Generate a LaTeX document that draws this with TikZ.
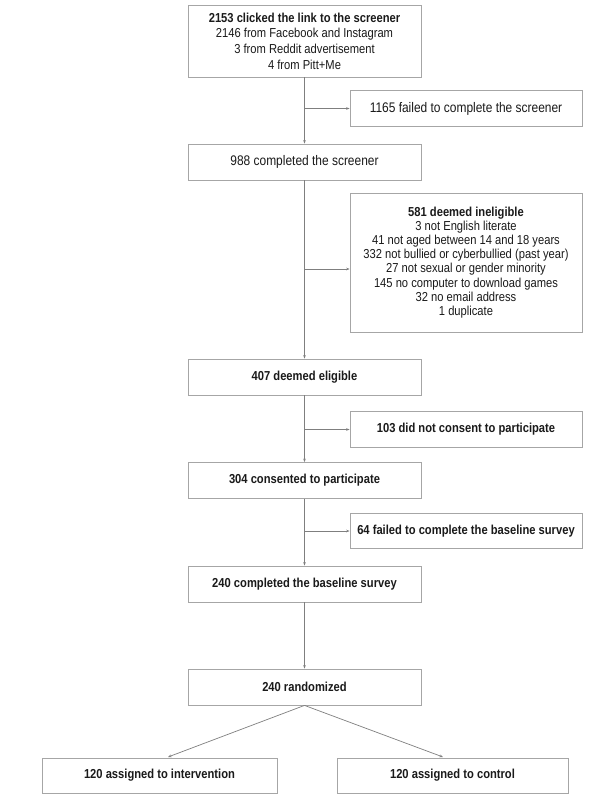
\documentclass[tikz,border=0pt]{standalone}
\usepackage{fontspec}
\setmainfont{Liberation Sans}[FakeStretch=0.86]
\usetikzlibrary{arrows.meta}
\definecolor{linegray}{HTML}{7F7F7F}
\definecolor{boxgray}{HTML}{A6A6A6}
\definecolor{txt}{HTML}{1A1A1A}
\tikzset{
  box/.style={draw=boxgray, line width=0.8pt, fill=white, inner sep=0pt, align=center,
    text=txt, font=\fontsize{13}{14.2}\selectfont},
  bigtext/.style={font=\fontsize{13.9}{15}\selectfont},
  mainbox/.style={box, minimum width=233pt, minimum height=36pt},
  sidebox/.style={box, minimum width=232pt, minimum height=35.5pt},
  botbox/.style={box, minimum width=233pt, minimum height=35pt},
  arr/.style={draw=linegray, line width=0.7pt, -{Stealth[length=3.5pt,width=2.6pt]}},
}
\begin{document}
\begin{tikzpicture}[x=1pt,y=-1pt]
\useasboundingbox[fill=white] (0,0) rectangle (614,798);
\node[mainbox, minimum height=72pt] (top) at (304.5,41) {\textbf{2153 clicked the link to the screener}\\[1.4pt]2146 from Facebook and Instagram\\[1.4pt]3 from Reddit advertisement\\[1.4pt]4 from Pitt+Me};
\node[sidebox, bigtext] (f1) at (466,108.5) {1165 failed to complete the screener};
\node[mainbox, bigtext] (scr) at (304.5,162) {988 completed the screener};
\node[sidebox, minimum height=139pt] (inel) at (466,262.5) {\textbf{581 deemed ineligible}\\3 not English literate\\41 not aged between 14 and 18 years\\332 not bullied or cyberbullied (past year)\\27 not sexual or gender minority\\145 no computer to download games\\32 no email address\\1 duplicate};
\node[mainbox] (elig) at (304.5,377) {\textbf{407 deemed eligible}};
\node[sidebox] (f2) at (466,429.5) {\textbf{103 did not consent to participate}};
\node[mainbox] (cons) at (304.5,480.5) {\textbf{304 consented to participate}};
\node[sidebox] (f3) at (466,531) {\textbf{64 failed to complete the baseline survey}};
\node[mainbox] (base) at (304.5,584) {\textbf{240 completed the baseline survey}};
\node[mainbox] (rand) at (304.5,687) {\textbf{240 randomized}};
\node[botbox, minimum width=235pt] (int) at (159.5,775.5) {\textbf{120 assigned to intervention}};
\node[botbox, minimum width=231pt] (ctl) at (452.5,775.5) {\textbf{120 assigned to control}};
\coordinate (intin) at (168,757);
\coordinate (ctlin) at (443,757);
\draw[arr] (top) -- (scr);
\draw[arr] (top.south |- f1.west) -- (f1.west);
\draw[arr] (scr) -- (elig);
\draw[arr] (scr.south |- inel.west) ++(0,6.5) coordinate (ib) -- (inel.west |- ib);
\draw[arr] (elig) -- (cons);
\draw[arr] (elig.south |- f2.west) -- (f2.west);
\draw[arr] (cons) -- (base);
\draw[arr] (cons.south |- f3.west) -- (f3.west);
\draw[arr] (base) -- (rand);
\draw[arr] (rand.south) -- (intin);
\draw[arr] (rand.south) -- (ctlin);
\end{tikzpicture}
\end{document}
